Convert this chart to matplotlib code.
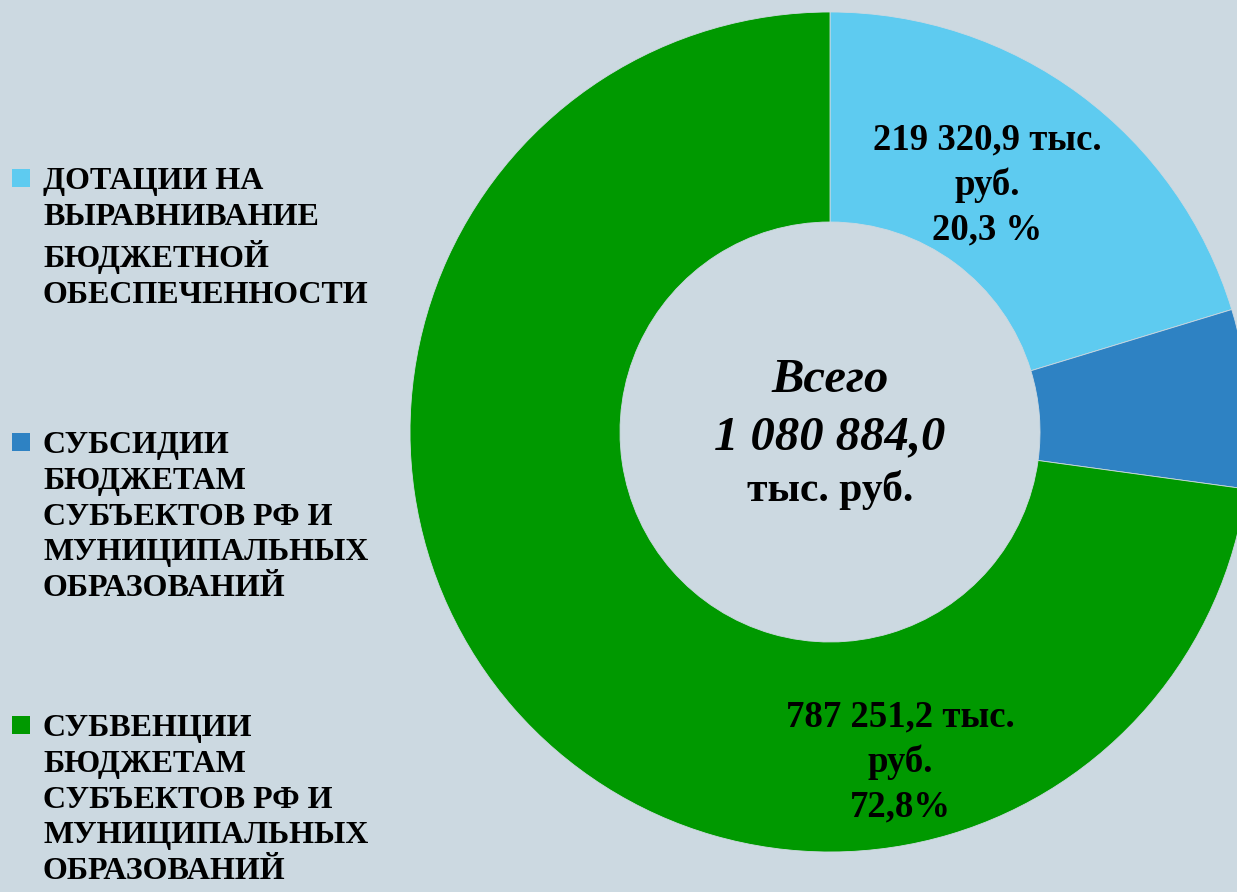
import numpy as np
import matplotlib.pyplot as plt
from matplotlib.patches import Rectangle

plt.rcParams['font.family'] = ['Liberation Serif', 'DejaVu Serif']

# data (тыс. руб.)
categories = [
    "ДОТАЦИИ НА\nВЫРАВНИВАНИЕ\nБЮДЖЕТНОЙ\nОБЕСПЕЧЕННОСТИ",
    "СУБСИДИИ\nБЮДЖЕТАМ\nСУБЪЕКТОВ РФ И\nМУНИЦИПАЛЬНЫХ\nОБРАЗОВАНИЙ",
    "СУБВЕНЦИИ\nБЮДЖЕТАМ\nСУБЪЕКТОВ РФ И\nМУНИЦИПАЛЬНЫХ\nОБРАЗОВАНИЙ",
]
values = [219320.9, 74311.9, 787251.2]
slice_labels = ["219 320,9 тыс.\nруб.\n20,3 %", "", "787 251,2 тыс.\nруб.\n72,8%"]
total_label = "1 080 884,0"

bg = "#ccd9e1"
colors = ["#5ecbf0", "#2e82c3", "#009900"]

W, H = 1237, 892
fig = plt.figure(figsize=(W / 100, H / 100), dpi=100, facecolor=bg)

# donut axes: centre (830, 432) px, outer radius 420 px
cx, cy, r = 830, 432, 420
ax = fig.add_axes([(cx - r) / W, (H - cy - r) / H, 2 * r / W, 2 * r / H])
ax.set_facecolor(bg)
ax.axis("off")

wedges, _ = ax.pie(values, colors=colors, startangle=90, counterclock=False,
                   radius=1.0, wedgeprops=dict(width=0.5, edgecolor=bg, linewidth=0.6))
ax.set_xlim(-1, 1)
ax.set_ylim(-1, 1)
ax.set_aspect("equal")

# slice labels
label_pos = [(0.374, 0.588), None, (0.167, -0.786)]
for lbl, pos in zip(slice_labels, label_pos):
    if pos is None:
        continue
    ax.text(pos[0], pos[1], lbl, ha="center", va="center", fontsize=26.5,
            fontweight="bold", linespacing=1.35, color="black")

# centre text
ax.text(0, 0.124, "Всего", ha="center", va="center", fontsize=35,
        fontweight="bold", style="italic")
ax.text(0, -0.012, total_label, ha="center", va="center", fontsize=35,
        fontweight="bold", style="italic")
ax.text(0, -0.138, "тыс. руб.", ha="center", va="center", fontsize=30,
        fontweight="bold")

# legend on the left
leg_y = [178, 442, 725]
for cat, col, y in zip(categories, colors, leg_y):
    fig.patches.append(Rectangle((12 / W, (H - y - 9) / H), 18 / W, 18 / H,
                                 transform=fig.transFigure, facecolor=col,
                                 edgecolor="none"))
    fig.text(43 / W, (H - y + 11) / H, cat, ha="left", va="top", fontsize=23,
             fontweight="bold", linespacing=1.31)

fig.savefig("out.png", dpi=100, facecolor=bg)
